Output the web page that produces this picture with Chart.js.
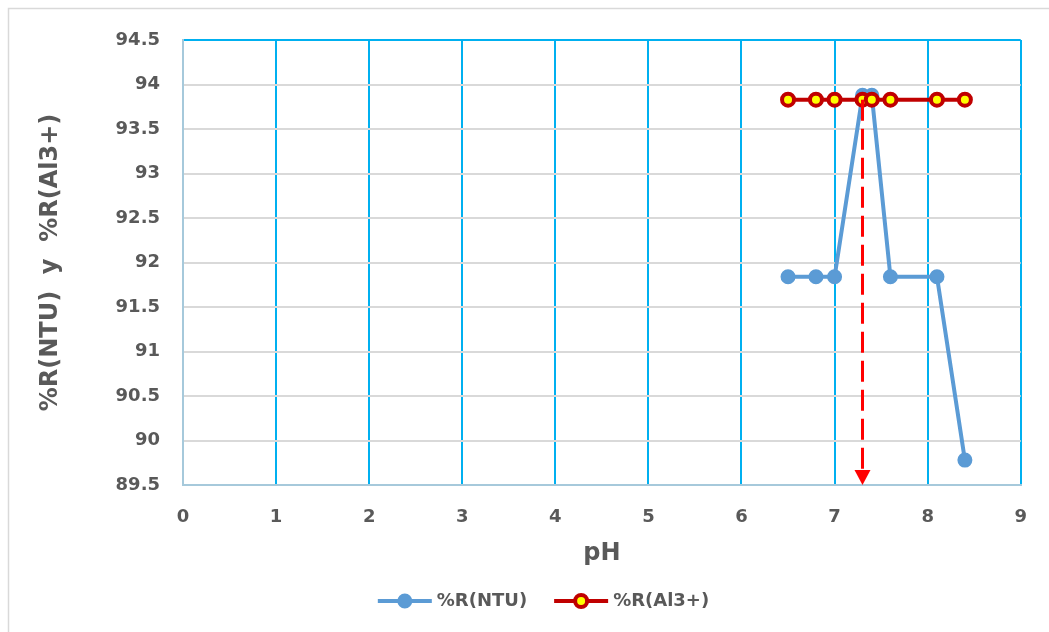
<!DOCTYPE html>
<html>
<head>
<meta charset="utf-8">
<title>%R vs pH</title>
<script src="https://cdn.jsdelivr.net/npm/chart.js@4/dist/chart.umd.min.js"></script>
<style>
  html, body { margin: 0; padding: 0; background: #ffffff; }
  canvas { display: block; }
</style>
</head>
<body>
<canvas id="chart" width="1049" height="632"></canvas>
<script>
// pH of each jar test
const phValues = [6.5, 6.8, 7.0, 7.3, 7.4, 7.6, 8.1, 8.4];
// Turbidity removal, %
const removalNTU = [91.84, 91.84, 91.84, 93.88, 93.88, 91.84, 91.84, 89.78];
// Residual aluminium removal, %
const removalAl = [93.83, 93.83, 93.83, 93.83, 93.83, 93.83, 93.83, 93.83];
// Series names
const seriesNames = ['%R(NTU)', '%R(Al3+)'];
// Tick labels
const xTickLabels = ['0', '1', '2', '3', '4', '5', '6', '7', '8', '9'];
const yTickLabels = ['89.5', '90', '90.5', '91', '91.5', '92', '92.5', '93', '93.5', '94', '94.5'];
// Axis ranges and steps
const xAxis = { min: 0, max: 9, step: 1 };
const yAxis = { min: 89.5, max: 94.5, step: 0.5 };
// Optimum pH marker: dashed arrow from the Al3+ curve down to the axis
const optimumPH = 7.3;
const optimumFrom = 93.83;
const optimumTo = 89.5;

const TEXT = '#595959';
const FONT = '"DejaVu Sans", sans-serif';
const CYAN = '#00B0F0';
const AXIS = '#A6C9DB';
const GRID = '#D9D9D9';

const toPoints = (xs, ys) => xs.map((x, i) => ({ x, y: ys[i] }));

// Thin frame around the chart
const framePlugin = {
  id: 'frame',
  beforeDraw(chart) {
    const ctx = chart.ctx;
    ctx.save();
    ctx.strokeStyle = GRID;
    ctx.lineWidth = 1.5;
    ctx.beginPath();
    ctx.moveTo(8.5, chart.height);
    ctx.lineTo(8.5, 8.5);
    ctx.lineTo(chart.width, 8.5);
    ctx.stroke();
    ctx.restore();
  }
};

// Dashed arrow pointing at the optimum pH
const arrowPlugin = {
  id: 'optimumArrow',
  afterDatasetsDraw(chart) {
    const { ctx, scales: { x, y } } = chart;
    const px = x.getPixelForValue(optimumPH);
    const top = y.getPixelForValue(optimumFrom);
    const tip = y.getPixelForValue(optimumTo);
    const headH = 15, headW = 16;
    ctx.save();
    ctx.strokeStyle = '#FF0000';
    ctx.fillStyle = '#FF0000';
    ctx.lineWidth = 3;
    ctx.setLineDash([21, 8]);
    ctx.beginPath();
    ctx.moveTo(px, top);
    ctx.lineTo(px, tip - headH);
    ctx.stroke();
    ctx.setLineDash([]);
    ctx.beginPath();
    ctx.moveTo(px - headW / 2, tip - headH);
    ctx.lineTo(px + headW / 2, tip - headH);
    ctx.lineTo(px, tip);
    ctx.closePath();
    ctx.fill();
    ctx.restore();
  }
};

// Legend: line sample with marker, then the series name
const legendPlugin = {
  id: 'lineLegend',
  afterDraw(chart) {
    const ctx = chart.ctx;
    const lineLen = 54, textGap = 5, itemGap = 27;
    const cy = 601;
    ctx.save();
    ctx.font = 'bold 18px ' + FONT;
    ctx.textBaseline = 'middle';
    const items = chart.data.datasets;
    const widths = items.map(d => lineLen + textGap + ctx.measureText(d.label).width);
    const total = widths.reduce((a, b) => a + b, 0) + itemGap * (items.length - 1);
    let xPos = chart.width / 2 + 19 - total / 2;
    items.forEach((d, i) => {
      ctx.strokeStyle = d.borderColor;
      ctx.lineWidth = d.borderWidth;
      ctx.beginPath();
      ctx.moveTo(xPos, cy);
      ctx.lineTo(xPos + lineLen, cy);
      ctx.stroke();
      ctx.beginPath();
      ctx.arc(xPos + lineLen / 2, cy, d.pointRadius, 0, Math.PI * 2);
      ctx.fillStyle = d.pointBackgroundColor;
      ctx.fill();
      ctx.lineWidth = d.pointBorderWidth;
      ctx.strokeStyle = d.pointBorderColor;
      ctx.stroke();
      ctx.fillStyle = TEXT;
      ctx.textAlign = 'left';
      ctx.fillText(d.label, xPos + lineLen + textGap, cy);
      xPos += widths[i] + itemGap;
    });
    ctx.restore();
  }
};

new Chart(document.getElementById('chart'), {
  type: 'line',
  data: {
    datasets: [
      {
        label: seriesNames[0],
        data: toPoints(phValues, removalNTU),
        borderColor: '#5B9BD5',
        borderWidth: 4,
        pointRadius: 6.5,
        pointBackgroundColor: '#5B9BD5',
        pointBorderColor: '#5B9BD5',
        pointBorderWidth: 2,
        tension: 0,
        order: 2
      },
      {
        label: seriesNames[1],
        data: toPoints(phValues, removalAl),
        borderColor: '#C00000',
        borderWidth: 4,
        pointRadius: 6,
        pointBackgroundColor: '#FFFF00',
        pointBorderColor: '#C00000',
        pointBorderWidth: 4,
        tension: 0,
        order: 1
      }
    ]
  },
  options: {
    responsive: false,
    animation: false,
    events: [],
    layout: { padding: { left: 0, right: 23, top: 40, bottom: 64 } },
    plugins: {
      legend: { display: false },
      tooltip: { enabled: false }
    },
    scales: {
      x: {
        type: 'linear',
        min: xAxis.min,
        max: xAxis.max,
        afterFit(scale) { scale.height = 83; },
        ticks: {
          stepSize: xAxis.step,
          padding: 22,
          color: TEXT,
          font: { family: FONT, size: 18, weight: 'bold' },
          callback: (v, i) => xTickLabels[i]
        },
        grid: {
          drawTicks: false,
          lineWidth: 2,
          color: c => (c.tick && c.tick.value === xAxis.min ? 'rgba(0,0,0,0)' : CYAN)
        },
        border: { color: AXIS, width: 2 },
        title: {
          display: true,
          text: 'pH',
          color: TEXT,
          font: { family: FONT, size: 24, weight: 'bold' },
          padding: { top: 12, bottom: 0 }
        }
      },
      y: {
        type: 'linear',
        min: yAxis.min,
        max: yAxis.max,
        afterFit(scale) { scale.width = 183; },
        ticks: {
          stepSize: yAxis.step,
          padding: 23,
          color: TEXT,
          font: { family: FONT, size: 18, weight: 'bold' },
          callback: (v, i) => yTickLabels[i]
        },
        grid: {
          drawTicks: false,
          lineWidth: 2,
          color: c => {
            if (!c.tick) return GRID;
            if (c.tick.value === yAxis.max) return CYAN;
            if (c.tick.value === yAxis.min) return 'rgba(0,0,0,0)';
            return GRID;
          }
        },
        border: { color: AXIS, width: 2 },
        title: {
          display: true,
          text: '%R(NTU)  y  %R(Al3+)',
          color: TEXT,
          font: { family: FONT, size: 24, weight: 'bold' },
          padding: { top: 36, bottom: 0 }
        }
      }
    }
  },
  plugins: [framePlugin, arrowPlugin, legendPlugin]
});
</script>
</body>
</html>
